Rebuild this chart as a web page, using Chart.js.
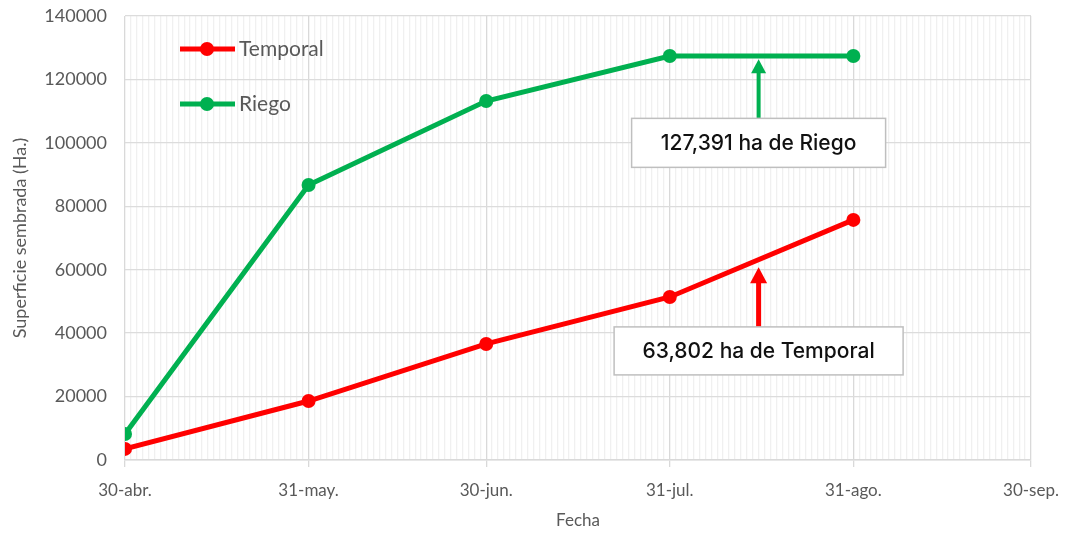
<!DOCTYPE html>
<html>
<head>
<meta charset="utf-8">
<script src="https://cdn.jsdelivr.net/npm/chart.js@4.4.1/dist/chart.umd.min.js"></script>
<style>
html,body{margin:0;padding:0;background:#fff;}
#wrap{width:1067px;height:533px;position:relative;}
</style>
</head>
<body>
<div id="wrap"><canvas id="c"></canvas></div>
<script>
// Dates (days since 30-abr.) of the observations
const obsDays = [0, 31, 61, 92, 123];
const temporal = [3500, 18600, 36600, 51400, 75700];
const riego = [8200, 86700, 113200, 127391, 127391];
// x-axis month ticks
const tickDays = [0, 31, 61, 92, 123, 153];
const tickLabels = ['30-abr.', '31-may.', '30-jun.', '31-jul.', '31-ago.', '30-sep.'];
const yTicks = [0, 20000, 40000, 60000, 80000, 100000, 120000, 140000];

const RED = '#ff0000', GREEN = '#00b050', TXT = '#595959';

const callouts = [
  {text: '127,391 ha de Riego', color: GREEN, day: 107, tip: 126400, boxY: 100000, w: 254, h: 49, lw: 4, hw: 15, hh: 14},
  {text: '63,802 ha de Temporal', color: RED, day: 107, tip: 60800, boxY: 34400, w: 289, h: 48, lw: 5, hw: 17, hh: 16}
];

const overlay = {
  id: 'overlay',
  afterDatasetsDraw(chart) {
    const {ctx, chartArea: a, scales: {x, y}} = chart;
    ctx.save();
    // legend
    const items = [{t: 'Temporal', c: RED, dy: 33}, {t: 'Riego', c: GREEN, dy: 88}];
    items.forEach(it => {
      const yy = a.top + it.dy;
      ctx.strokeStyle = it.c; ctx.lineWidth = 5; ctx.lineCap = 'butt';
      ctx.beginPath(); ctx.moveTo(a.left + 55, yy); ctx.lineTo(a.left + 110, yy); ctx.stroke();
      ctx.fillStyle = it.c; ctx.beginPath(); ctx.arc(a.left + 82, yy, 7, 0, Math.PI * 2); ctx.fill();
      ctx.fillStyle = TXT; ctx.font = '21px Lato'; ctx.textBaseline = 'middle'; ctx.textAlign = 'left';
      ctx.fillText(it.t, a.left + 114, yy);
    });
    // callouts
    callouts.forEach(cb => {
      const cx = x.getPixelForValue(cb.day);
      const tipY = y.getPixelForValue(cb.tip);
      const by = y.getPixelForValue(cb.boxY);
      const top = by - cb.h / 2;
      ctx.strokeStyle = cb.color; ctx.fillStyle = cb.color; ctx.lineWidth = cb.lw;
      ctx.beginPath(); ctx.moveTo(cx, top); ctx.lineTo(cx, tipY + cb.hh - 1); ctx.stroke();
      ctx.beginPath(); ctx.moveTo(cx, tipY); ctx.lineTo(cx - cb.hw / 2, tipY + cb.hh); ctx.lineTo(cx + cb.hw / 2, tipY + cb.hh); ctx.closePath(); ctx.fill();
      ctx.fillStyle = '#fff'; ctx.fillRect(cx - cb.w / 2, top, cb.w, cb.h);
      ctx.strokeStyle = '#bfbfbf'; ctx.lineWidth = 1.5;
      ctx.strokeRect(cx - cb.w / 2, top, cb.w, cb.h);
      ctx.fillStyle = '#111'; ctx.font = '500 21px Inter'; ctx.textAlign = 'center'; ctx.textBaseline = 'middle';
      ctx.fillText(cb.text, cx, by + 1);
    });
    ctx.restore();
  }
};

new Chart(document.getElementById('c'), {
  type: 'line',
  data: {
    datasets: [
      {label: 'Temporal', data: obsDays.map((d, i) => ({x: d, y: temporal[i]})), borderColor: RED, backgroundColor: RED,
       borderWidth: 5, pointRadius: 7, pointBackgroundColor: RED, pointBorderWidth: 0, tension: 0},
      {label: 'Riego', data: obsDays.map((d, i) => ({x: d, y: riego[i]})), borderColor: GREEN, backgroundColor: GREEN,
       borderWidth: 5, pointRadius: 7, pointBackgroundColor: GREEN, pointBorderWidth: 0, tension: 0}
    ]
  },
  options: {
    responsive: true, maintainAspectRatio: false, animation: false,
    layout: {padding: {top: 16, right: 36, left: 0, bottom: 0}},
    plugins: {legend: {display: false}, tooltip: {enabled: false}},
    scales: {
      x: {
        type: 'linear', min: tickDays[0], max: tickDays[tickDays.length - 1],
        afterBuildTicks(s) {
          const t = [];
          for (let d = s.min; d <= s.max; d++) t.push({value: d});
          s.ticks = t;
        },
        afterFit(s) { s.height = 73; s.paddingLeft = 0; s.paddingRight = 0; },
        ticks: {
          autoSkip: false, maxRotation: 0, color: TXT, font: {family: 'Lato', size: 17}, padding: 13,
          callback(v) { const i = tickDays.indexOf(v); return i >= 0 ? tickLabels[i] : ''; }
        },
        grid: {
          color: c => tickDays.includes(c.tick && c.tick.value) ? '#d9d9d9' : '#f0f0f0',
          tickColor: c => tickDays.includes(c.tick && c.tick.value) ? '#d9d9d9' : 'rgba(0,0,0,0)',
          tickLength: 7, lineWidth: 1.3
        },
        border: {display: true, color: '#d9d9d9', width: 1.5},
        title: {display: true, text: 'Fecha', color: TXT, font: {family: 'Lato', size: 17}, padding: {top: 0, bottom: 2}}
      },
      y: {
        min: 0, max: 140000,
        afterBuildTicks(s) { s.ticks = yTicks.map(v => ({value: v})); },
        afterFit(s) { s.width = 125; s.paddingTop = 4; s.paddingBottom = 4; },
        ticks: {color: TXT, font: {family: 'Lato', size: 18}, padding: 18, callback: v => String(v)},
        grid: {color: '#dcdcdc', drawTicks: false, lineWidth: 1.3},
        border: {display: false},
        title: {display: true, text: 'Superficie sembrada (Ha.)', color: TXT, font: {family: 'Lato', size: 18}, padding: {top: 9, bottom: 0}}
      }
    }
  },
  plugins: [overlay]
});
</script>
</body>
</html>
